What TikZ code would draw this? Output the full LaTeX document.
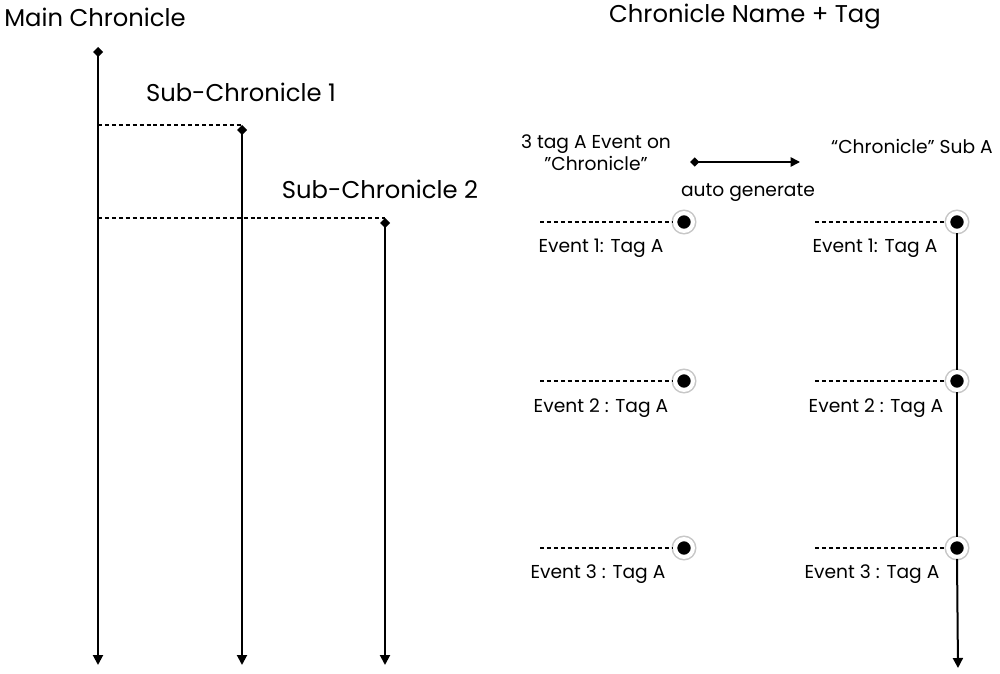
\documentclass[tikz,border=0pt]{standalone}
\usepackage{fontspec}
\setmainfont{Poppins}
\usetikzlibrary{arrows.meta}

\begin{document}
\begin{tikzpicture}[x=0.75pt, y=-0.75pt,
  title/.style={font=\fontsize{18.2}{21}\selectfont, inner sep=0pt},
  label/.style={font=\fontsize{14}{16.5}\selectfont, inner sep=0pt, align=center},
  timeline/.style={line width=1.5pt, {Turned Square[length=7.5pt,width=7.5pt]}-{Triangle[length=7.5pt,width=7.5pt]}},
  downline/.style={line width=1.5pt, -{Triangle[length=7.5pt,width=7.5pt]}},
  link/.style={line width=1pt, dash pattern=on 3pt off 2.2pt},
  gen/.style={line width=1.2pt, {Turned Square[length=7pt,width=7pt]}-{Triangle[length=7pt,width=7pt]}},
  event/.style={circle, inner sep=0pt, minimum size=13.3pt, outer sep=1.55pt,
    fill=black, draw=white, line width=3.1pt,
    preaction={draw=black!22, line width=5.4pt}}
]
\useasboundingbox (0,0) rectangle (1000,674);

% ---- left: main chronicle with two sub-chronicles ----
\node[title] (tmain) at (95,17) {Main Chronicle};
\node[title] (tsub1) at (241,92) {Sub-Chronicle 1};
\node[title] (tsub2) at (380,189) {Sub-Chronicle 2};

\coordinate (m0) at (98,47);
\coordinate (m1) at (98,665);
\coordinate (b1) at (98,125);
\coordinate (b2) at (98,218);
\coordinate (s10) at (242,125);
\coordinate (s11) at (242,665);
\coordinate (s20) at (385,218);
\coordinate (s21) at (385,665);

\draw[link] (b1) -- (s10);
\draw[link] (b2) -- (s20);
\draw[timeline] (m0) -- (m1);
\draw[timeline] (s10) -- (s11);
\draw[timeline] (s20) -- (s21);

% ---- right: tagged events and the generated sub-chronicle ----
\node[title] (ttag) at (745,17) {Chronicle Name + Tag};
\node[label] (tsrc) at (596,153) {3 tag A Event on\\"Chronicle"};
\node[label] (tdst) at (912,146) {“Chronicle” Sub A};
\node[label] (tgen) at (748,193) {auto generate};

\coordinate (g0) at (690,162);
\coordinate (g1) at (800,162);
\draw[gen] (g0) -- (g1);

% left column events
\coordinate (la1) at (540,222);
\coordinate (la2) at (540,381);
\coordinate (la3) at (540,548);
\node[event] (le1) at (684,222) {};
\node[event] (le2) at (684,381) {};
\node[event] (le3) at (684,548) {};
\draw[link] (la1) -- (le1);
\draw[link] (la2) -- (le2);
\draw[link] (la3) -- (le3);
\node[label] (ll1) at (601,248) {Event 1: Tag A};
\node[label] (ll2) at (601,408) {Event 2 : Tag A};
\node[label] (ll3) at (598,574) {Event 3 : Tag A};

% right column events on the generated sub-chronicle
\coordinate (ra1) at (815,222);
\coordinate (ra2) at (815,381);
\coordinate (ra3) at (815,548);
\coordinate (rend) at (958,668);
\node[event] (re1) at (957,222) {};
\node[event] (re2) at (957,381) {};
\node[event] (re3) at (957,548) {};
\draw[link] (ra1) -- (re1);
\draw[link] (ra2) -- (re2);
\draw[link] (ra3) -- (re3);
\draw[line width=1.5pt] (re1.south) -- (re2.north);
\draw[line width=1.5pt] (re2.south) -- (re3.north);
\draw[downline] (re3.south) -- (rend);
\node[label] (rl1) at (875,248) {Event 1: Tag A};
\node[label] (rl2) at (876,408) {Event 2 : Tag A};
\node[label] (rl3) at (872,574) {Event 3 : Tag A};
\end{tikzpicture}
\end{document}
